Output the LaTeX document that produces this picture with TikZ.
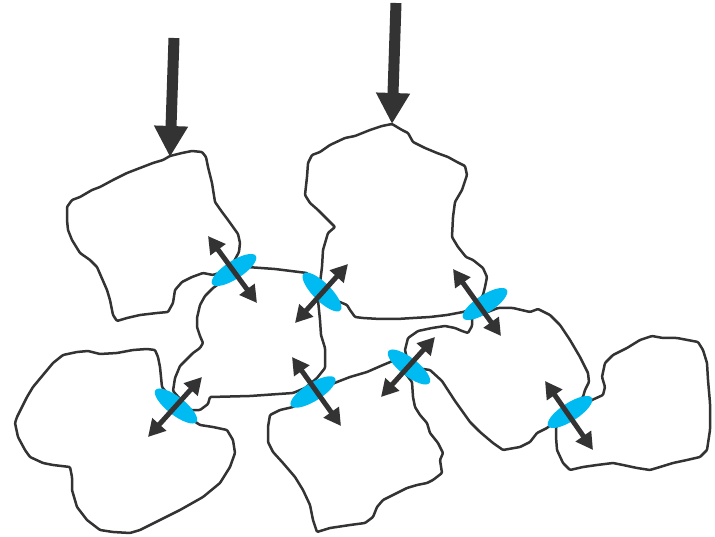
\documentclass[tikz,border=0pt]{standalone}
\usepackage{tikz}
\usetikzlibrary{arrows.meta, shapes.geometric}
\pgfdeclarelayer{bg}
\pgfsetlayers{bg,main}
\definecolor{ink}{HTML}{333333}
\definecolor{contactblue}{HTML}{00BAF2}
\tikzset{
  grain/.style={draw=ink, line width=2.5pt, line join=round, rounded corners=1pt},
  contact/.style={ellipse, fill=contactblue, draw=none, inner sep=0pt, minimum width=52pt, minimum height=18pt},
  force/.style={draw=ink, line width=5pt, {Triangle[length=17pt,width=18pt]}-{Triangle[length=17pt,width=18pt]}},
  load/.style={draw=ink, line width=11pt, -{Triangle[length=31pt,width=32pt]}}
}

\begin{document}
\begin{tikzpicture}[x=1pt, y=-1pt]
    \useasboundingbox (0,0) rectangle (715,537);

    \begin{pgfonlayer}{bg}    % grain outlines
    \draw[grain] (170,156) -- (182,153) -- (192,151) -- (202,152) -- (206,157) -- (208,167) -- (212,183) -- (215,202) -- (222,212) -- (228,220) -- (233,227) -- (238,234) -- (240,243) -- (239,252) -- (232,265) -- (222,272) -- (213,275) -- (203,273) -- (192,277) -- (182,282) -- (175,290) -- (173,303) -- (168,312) -- (157,313) -- (140,315) -- (127,318) -- (117,321) -- (113,315) -- (110,300) -- (107,290) -- (97,267) -- (90,260) -- (80,253) -- (72,240) -- (68,230) -- (67,220) -- (67,207) -- (72,200) -- (80,197) -- (92,190) -- (100,187) -- (113,180) -- (127,173) -- (140,168) -- (153,163) -- (163,160) -- cycle;
    \draw[grain] (392,124) -- (382,126) -- (370,130) -- (355,136) -- (345,138) -- (330,145) -- (320,152) -- (312,155) -- (308,163) -- (307,177) -- (305,195) -- (310,203) -- (318,210) -- (330,222) -- (335,227) -- (328,233) -- (323,250) -- (322,267) -- (320,283) -- (335,300) -- (347,305) -- (350,310) -- (355,317) -- (363,318) -- (380,319) -- (397,319) -- (413,318) -- (430,317) -- (447,315) -- (463,312) -- (475,308) -- (483,295) -- (485,287) -- (487,277) -- (483,268) -- (473,260) -- (466,257) -- (458,247) -- (452,237) -- (453,217) -- (455,202) -- (462,190) -- (467,175) -- (465,166) -- (457,162) -- (448,157) -- (437,153) -- (425,148) -- (413,142) -- (408,133) -- (402,130) -- cycle;
    \draw[grain] (240,272) -- (247,267) -- (275,269) -- (307,273) -- (318,290) -- (318,300) -- (320,320) -- (321,335) -- (325,348) -- (325,368) -- (317,378) -- (305,388) -- (293,393) -- (250,396) -- (210,397) -- (208,404) -- (200,410) -- (190,410) -- (173,391) -- (175,378) -- (180,366) -- (188,358) -- (193,353) -- (200,348) -- (203,343) -- (200,336) -- (197,327) -- (197,318) -- (200,305) -- (205,296) -- (213,288) -- (220,283) -- (228,275) -- cycle;
    \draw[grain] (162,387) -- (160,367) -- (158,357) -- (155,350) -- (147,349) -- (133,350) -- (117,353) -- (100,354) -- (88,351) -- (77,352) -- (63,355) -- (53,363) -- (43,375) -- (33,387) -- (27,397) -- (22,407) -- (17,417) -- (15,423) -- (18,437) -- (25,450) -- (30,457) -- (43,463) -- (53,465) -- (70,467) -- (72,477) -- (72,490) -- (77,507) -- (87,520) -- (100,530) -- (113,532) -- (130,533) -- (140,530) -- (160,520) -- (180,510) -- (203,497) -- (220,483) -- (230,467) -- (235,453) -- (233,440) -- (227,430) -- (213,427) -- (200,425) -- (185,415) -- cycle;
    \draw[grain] (337,382) -- (350,377) -- (367,372) -- (383,365) -- (395,360) -- (412,382) -- (413,397) -- (415,407) -- (420,415) -- (427,423) -- (430,433) -- (438,443) -- (443,453) -- (440,460) -- (442,473) -- (433,480) -- (427,483) -- (417,485) -- (407,488) -- (393,495) -- (383,500) -- (377,507) -- (373,517) -- (365,523) -- (350,525) -- (330,528) -- (317,532) -- (313,520) -- (310,505) -- (303,490) -- (295,477) -- (283,463) -- (273,452) -- (268,442) -- (268,427) -- (270,415) -- (280,410) -- (293,407) -- (313,392) -- cycle;
    \draw[grain] (405,350) -- (408,338) -- (418,331) -- (432,328) -- (445,326) -- (455,328) -- (462,331) -- (468,333) -- (472,326) -- (472,318) -- (498,308) -- (513,308) -- (530,312) -- (538,309) -- (550,315) -- (560,325) -- (570,340) -- (580,357) -- (588,373) -- (589,382) -- (585,390) -- (583,397) -- (553,423) -- (547,428) -- (537,433) -- (530,442) -- (520,447) -- (503,450) -- (493,443) -- (480,432) -- (470,422) -- (455,401) -- (442,381) -- (430,370) -- (409,367) -- cycle;
    \draw[grain] (592,400) -- (603,395) -- (605,387) -- (602,377) -- (605,363) -- (613,355) -- (627,348) -- (640,340) -- (652,336) -- (663,338) -- (677,338) -- (698,342) -- (703,350) -- (707,363) -- (708,380) -- (710,403) -- (710,430) -- (707,450) -- (700,457) -- (687,460) -- (673,463) -- (660,467) -- (650,470) -- (637,468) -- (623,465) -- (613,463) -- (597,465) -- (583,467) -- (570,470) -- (563,463) -- (557,450) -- (556,437) -- (556,427) -- (565,418) -- cycle;
    \end{pgfonlayer}

    % contacts between the grains
    \node [contact, rotate=33] (c1) at (234,270) {};
    \node [contact, rotate=-45] (c2) at (322,292) {};
    \node [contact, rotate=33] (c3) at (485,304) {};
    \node [contact, rotate=-38] (c4) at (176,406) {};
    \node [contact, rotate=32] (c5) at (313,392) {};
    \node [contact, rotate=-38] (c6) at (409,367) {};
    \node [contact, rotate=33] (c7) at (570,412) {};

    % contact forces
    \coordinate (f1a) at (208,236); \coordinate (f1b) at (257,303);
    \coordinate (f2a) at (348,264); \coordinate (f2b) at (295,323);
    \coordinate (f3a) at (453,269); \coordinate (f3b) at (501,336);
    \coordinate (f4a) at (202,377); \coordinate (f4b) at (148,437);
    \coordinate (f5a) at (292,357); \coordinate (f5b) at (341,426);
    \coordinate (f6a) at (435,337); \coordinate (f6b) at (381,397);
    \coordinate (f7a) at (545,381); \coordinate (f7b) at (593,450);
    \draw[force] (f1a) -- (f1b);
    \draw[force] (f2a) -- (f2b);
    \draw[force] (f3a) -- (f3b);
    \draw[force] (f4a) -- (f4b);
    \draw[force] (f5a) -- (f5b);
    \draw[force] (f6a) -- (f6b);
    \draw[force] (f7a) -- (f7b);

    % applied loads
    \coordinate (l1) at (174,38);
    \coordinate (l2) at (396,3);
    \coordinate (t1) at (170,157);
    \coordinate (t2) at (392,124);
    \draw[load] (l1) -- (t1);
    \draw[load] (l2) -- (t2);
\end{tikzpicture}
\end{document}
